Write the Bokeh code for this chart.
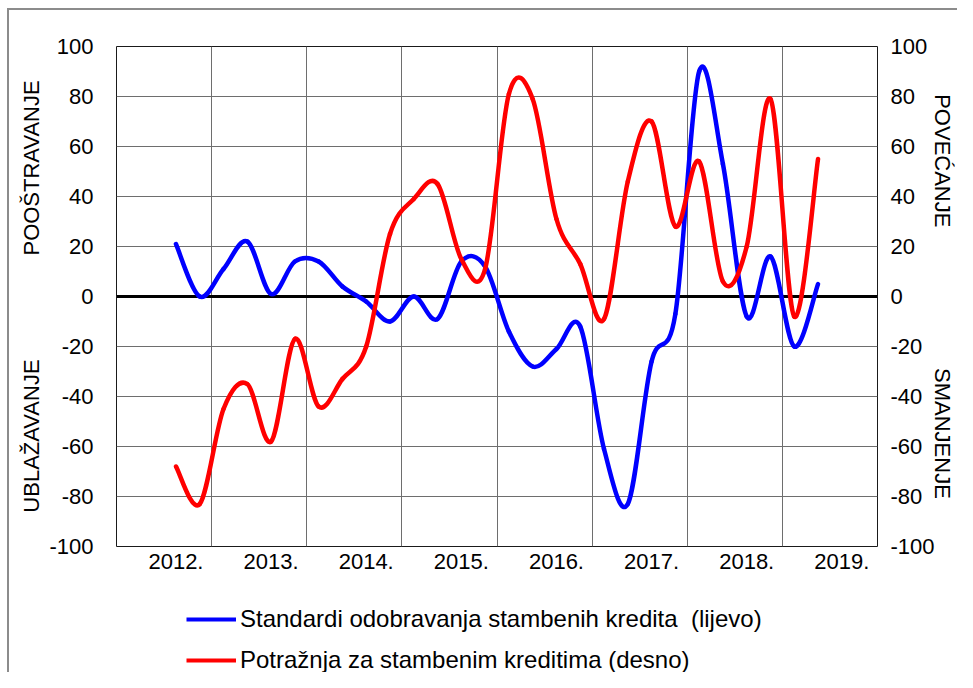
from bokeh.plotting import figure
from bokeh.layouts import column
from bokeh.models import (Range1d, LinearAxis, FixedTicker, Legend,
                          LegendItem, Span, ColumnDataSource)
from bokeh.embed import file_html
from bokeh.resources import INLINE

# quarterly observations, Q1 2012 ... Q4 2018 (index 0..27)
quarter_index = list(range(28))
standards = [21, 0, 11, 22, 1, 14, 14, 4, -2, -10,
             0, -9, 14, 12, -14, -28, -21, -12, -61, -83,
             -26, -7, 90, 53, -8, 16, -20, 5]
demand = [-68, -83, -45, -35, -58, -17, -44, -33, -20, 25,
          39, 45, 15, 11, 81, 79, 31, 13, -9, 46,
          70, 28, 54, 6, 20, 79, -8, 55]
year_ticks = [0, 4, 8, 12, 16, 20, 24, 28]
year_labels = ["2012.", "2013.", "2014.", "2015.", "2016.", "2017.", "2018.", "2019."]
y_ticks = [-100, -80, -60, -40, -20, 0, 20, 40, 60, 80, 100]
y_tick_labels = ["-100", "-80", "-60", "-40", "-20", "0", "20", "40", "60", "80", "100"]
series_names = ["Standardi odobravanja stambenih kredita  (lijevo)",
                "Potražnja za stambenim kreditima (desno)"]
left_titles = ["UBLAŽAVANJE", "POOŠTRAVANJE"]   # bottom, top
right_titles = ["POVEĆANJE", "SMANJENJE"]      # top, bottom

FONT = "Liberation Sans"
NB = "\u00a0"
BLUE = "#0000ff"
RED = "#ff0000"


def smooth_segments(xs, ys, t=1.0 / 6.0):
    """Cubic Bezier segments through the data points (Excel-like smoothing)."""
    n = len(xs)
    d = dict(x0=[], y0=[], x1=[], y1=[], cx0=[], cy0=[], cx1=[], cy1=[])
    for i in range(n - 1):
        a = max(i - 1, 0)
        b = min(i + 2, n - 1)
        d["x0"].append(xs[i]); d["y0"].append(ys[i])
        d["x1"].append(xs[i + 1]); d["y1"].append(ys[i + 1])
        d["cx0"].append(xs[i] + (xs[i + 1] - xs[a]) * t)
        d["cy0"].append(ys[i] + (ys[i + 1] - ys[a]) * t)
        d["cx1"].append(xs[i + 1] - (xs[b] - xs[i]) * t)
        d["cy1"].append(ys[i + 1] - (ys[b] - ys[i]) * t)
    return ColumnDataSource(d)


p = figure(width=957, height=582, output_backend="svg", toolbar_location=None,
           x_range=Range1d(-2.5, 29.5), y_range=Range1d(-100, 100),
           min_border_left=116, min_border_right=80, min_border_top=46,
           min_border_bottom=36)
p.background_fill_color = "white"
p.border_fill_color = None
p.outline_line_color = "#1a1a1a"
p.outline_line_width = 1

# grids
p.xgrid.ticker = FixedTicker(ticks=[1.5 + 4 * j for j in range(7)])
p.ygrid.ticker = FixedTicker(ticks=y_ticks)
for g in (p.xgrid[0], p.ygrid[0]):
    g.grid_line_color = "#6e6e6e"
    g.grid_line_width = 1

# axes
xa = p.xaxis[0]
xa.ticker = FixedTicker(ticks=year_ticks)
xa.major_label_overrides = dict(zip(year_ticks, year_labels))
ya = p.yaxis[0]
ya.ticker = FixedTicker(ticks=y_ticks)
p.extra_y_ranges = {"right": Range1d(-100, 100)}
ra = LinearAxis(y_range_name="right", ticker=FixedTicker(ticks=y_ticks))
p.add_layout(ra, "right")
for ax in (xa, ya, ra):
    ax.axis_line_color = None
    ax.major_tick_line_color = None
    ax.minor_tick_line_color = None
    ax.major_tick_out = 0
    ax.major_tick_in = 0
    ax.minor_tick_out = 0
    ax.major_label_text_font = FONT
    ax.major_label_text_font_size = "22px"
    ax.major_label_text_color = "black"
for ax in (ya, ra):
    ax.major_label_overrides = dict(zip(y_ticks, y_tick_labels))
    ax.axis_label_text_font = FONT
    ax.axis_label_text_font_size = "22px"
    ax.axis_label_text_font_style = "normal"
    ax.axis_label_text_color = "black"
ya.major_label_standoff = 23
ra.major_label_standoff = 13
xa.major_label_standoff = 7
ya.axis_label = left_titles[0] + NB * 17 + left_titles[1]
ya.axis_label_standoff = 2
ra.axis_label = right_titles[0] + NB * 23 + right_titles[1]
ra.axis_label_standoff = -8

# zero line
p.add_layout(Span(location=0, dimension="width", line_color="black",
                  line_width=3, level="underlay"))

# series
xs = list(quarter_index)
p.bezier(x0="x0", y0="y0", x1="x1", y1="y1", cx0="cx0", cy0="cy0", cx1="cx1", cy1="cy1",
         source=smooth_segments(xs, standards), line_color=BLUE, line_width=4.5,
         line_cap="round", line_join="round")
p.bezier(x0="x0", y0="y0", x1="x1", y1="y1", cx0="cx0", cy0="cy0", cx1="cx1", cy1="cy1",
         source=smooth_segments(xs, demand), line_color=RED, line_width=4.5,
         line_cap="round", line_join="round")

# legend strip under the chart (its own view range lies away from the data,
# so only the legend is visible there)
lf = figure(width=957, height=90, output_backend="svg", toolbar_location=None,
            x_range=Range1d(1000, 1001), y_range=Range1d(1000, 1001),
            min_border_left=0, min_border_right=0, min_border_top=0, min_border_bottom=0)
lf.axis.visible = False
lf.grid.visible = False
lf.outline_line_color = None
lf.background_fill_color = None
lf.border_fill_color = None
lb = lf.line(x=xs, y=standards, line_color=BLUE, line_width=4)
lr = lf.line(x=xs, y=demand, line_color=RED, line_width=4)
legend = Legend(items=[LegendItem(label=series_names[0], renderers=[lb]),
                       LegendItem(label=series_names[1], renderers=[lr])],
                location=(70, -2), orientation="vertical", glyph_width=50,
                glyph_height=26, label_height=26, label_standoff=4, spacing=13,
                padding=0, margin=0, border_line_alpha=0, background_fill_alpha=0,
                label_text_font=FONT, label_text_font_size="24px",
                label_text_color="black")
lf.add_layout(legend, "center")

col = column(p, lf, spacing=0)
col.styles = {"background": "linear-gradient(#8c8c8c, #8c8c8c) 7px 8px / 2px 100% no-repeat, "
                            "linear-gradient(#8c8c8c, #8c8c8c) 7px 8px / 100% 2px no-repeat, #ffffff"}

open("out.html", "w").write(file_html(col, INLINE))
